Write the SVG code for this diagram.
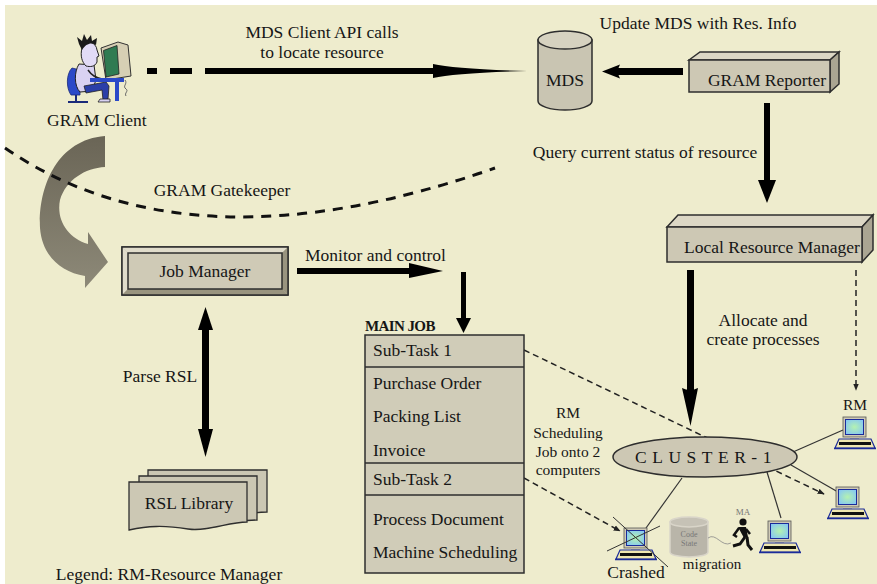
<svg xmlns="http://www.w3.org/2000/svg" xmlns:xlink="http://www.w3.org/1999/xlink" width="877" height="584" viewBox="0 0 877 584">
  <style>
    .t { font-family: "Liberation Serif", "Times New Roman", serif; font-size: 17.5px; fill: #161616; }
    .c { text-anchor: middle; }
    .sm { font-size: 15.5px; }
    .box { fill: #cdc8b4; stroke: #2e2e2e; stroke-width: 1.5; }
    .top { fill: #dcd7c5; stroke: #2e2e2e; stroke-width: 1.5; }
    .side { fill: #aaa592; stroke: #2e2e2e; stroke-width: 1.5; }
    .ink { fill: #000; }
    .dash { fill: none; stroke: #222; stroke-width: 1.5; stroke-dasharray: 6 4; }
    .wire { fill: none; stroke: #333; stroke-width: 1.2; }
  </style>
  <defs>
    <radialGradient id="scr" cx="0.5" cy="0.5" r="0.6">
      <stop offset="0" stop-color="#b4f2b0"/>
      <stop offset="1" stop-color="#86c8f2"/>
    </radialGradient>
    <linearGradient id="swoop" x1="0" y1="0" x2="0" y2="1">
      <stop offset="0" stop-color="#6a6556"/>
      <stop offset="1" stop-color="#8d8978"/>
    </linearGradient>
    <marker id="ah" viewBox="0 0 10 10" refX="9" refY="5" markerWidth="7" markerHeight="7" orient="auto" markerUnits="userSpaceOnUse">
      <path d="M0,1 L10,5 L0,9 Z" fill="#222"/>
    </marker>
    <!-- desktop computer icon, 44 x 34 -->
    <g id="pc">
      <rect x="10" y="0" width="23" height="20" fill="#cfcab5" stroke="#555" stroke-width="0.8"/>
      <rect x="12.5" y="2.5" width="18" height="15" fill="url(#scr)" stroke="#1b2b9a" stroke-width="1"/>
      <rect x="17" y="20" width="9" height="2" fill="#bdb8a4"/>
      <path d="M2,31 L6,22 L38,22 L42,31 Z" fill="#efe7b0" stroke="#1b2b9a" stroke-width="1.2"/>
      <rect x="6" y="25" width="32" height="3" fill="#111"/>
      <line x1="1" y1="31.5" x2="43" y2="31.5" stroke="#1b2b9a" stroke-width="1.5"/>
    </g>
  </defs>

  <!-- canvas -->
  <rect width="877" height="584" fill="#ffffff"/>
  <rect x="5" y="5" width="872" height="579" fill="#eeeccd"/>

  <!-- connectors -->
  <g id="connectors">
    <!-- client to gatekeeper / job manager swoop -->
    <path d="M105,136 L105,167 C85,168 66,180 60,200 C56,220 68,238 88,244 L88,232 L108,262 L85,288 L85,276 C60,272 42,255 40,228 C38,190 55,140 105,136 Z" fill="url(#swoop)"/>
    <!-- gatekeeper boundary -->
    <path d="M5,148 Q190,275 495,168" fill="none" stroke="#111" stroke-width="3" stroke-dasharray="10 8"/>

    <!-- client API call to MDS -->
    <rect class="ink" x="147" y="68" width="10" height="6"/>
    <rect class="ink" x="170" y="68" width="22" height="6"/>
    <rect class="ink" x="205" y="68" width="232" height="6"/>
    <path class="ink" d="M433,64 Q455,69 527,71 Q455,73 433,78 Z"/>

    <!-- reporter to MDS -->
    <rect class="ink" x="616" y="68" width="67" height="7"/>
    <path class="ink" d="M602,71.5 L620,64.5 L617,71.5 L620,78.5 Z"/>

    <!-- reporter down to local resource manager -->
    <rect class="ink" x="764" y="103" width="6" height="80"/>
    <path class="ink" d="M758,180 L776,180 L767,203 Z"/>

    <!-- local resource manager down to cluster -->
    <rect class="ink" x="687" y="270" width="7" height="122"/>
    <path class="ink" d="M682,388 Q690,392 698,388 L690.5,426 Z"/>

    <!-- local resource manager to RM node -->
    <line class="dash" x1="856" y1="270" x2="856" y2="390" stroke-dasharray="5 3" marker-end="url(#ah)"/>

    <!-- monitor and control -->
    <rect class="ink" x="297" y="268" width="116" height="6"/>
    <path class="ink" d="M409,263 L443,271 L409,278 Z"/>
    <rect class="ink" x="461" y="272" width="5" height="48"/>
    <path class="ink" d="M456,318 L471,318 L463.5,333 Z"/>

    <!-- parse RSL -->
    <rect class="ink" x="202" y="326" width="7" height="106"/>
    <path class="ink" d="M198,330 L205.5,307 L213,330 Z"/>
    <path class="ink" d="M198,429 L213,429 L205.5,457 Z"/>

    <!-- sub-task dispatch -->
    <line class="dash" x1="524" y1="350" x2="824" y2="494" marker-end="url(#ah)"/>
    <line class="dash" x1="524" y1="478" x2="620" y2="531" marker-end="url(#ah)"/>

    <!-- cluster links -->
    <line class="wire" x1="682" y1="478" x2="646" y2="528"/>
    <line class="wire" x1="767" y1="472" x2="781" y2="518"/>
    <line class="wire" x1="793" y1="452" x2="843" y2="430"/>
    <line class="wire" x1="791" y1="465" x2="838" y2="492"/>
  </g>

  <!-- text labels on connectors -->
  <g id="labels">
    <text class="t c" x="322" y="38">MDS Client API calls</text>
    <text class="t c" x="322" y="58">to locate resource</text>
    <text class="t c" x="698" y="29">Update MDS with Res. Info</text>
    <text class="t c" x="645" y="158">Query current status of resource</text>
    <text class="t c" x="222" y="196">GRAM Gatekeeper</text>
    <text class="t" x="305" y="261">Monitor and control</text>
    <text class="t c" x="763" y="326">Allocate and</text>
    <text class="t c" x="763" y="345">create processes</text>
    <text class="t c" x="160" y="382">Parse RSL</text>
    <text class="t sm c" x="568" y="418">RM</text>
    <text class="t sm c" x="568" y="438">Scheduling</text>
    <text class="t sm c" x="568" y="457">Job onto 2</text>
    <text class="t sm c" x="568" y="475">computers</text>
    <text class="t c" x="169" y="580">Legend: RM-Resource Manager</text>
  </g>

  <!-- GRAM client: user at a workstation -->
  <g id="gram-client">
    <path d="M72,68 C66,74 66,88 71,95 L80,95 L80,70 Z" fill="#2b49c8" stroke="#1a2a7a" stroke-width="0.8"/>
    <line x1="76" y1="95" x2="76" y2="101" stroke="#1a2a7a" stroke-width="2"/>
    <line x1="68" y1="102" x2="88" y2="102" stroke="#1a2a7a" stroke-width="2"/>
    <path d="M79,64 C74,72 74,86 80,92 L92,91 L96,80 L94,65 Z" fill="#d9d2f2" stroke="#222" stroke-width="1"/>
    <path d="M84,86 L106,82 L109,86 L108,99 L103,100 L102,90 L86,93 Z" fill="#2b3fa8" stroke="#222" stroke-width="0.8"/>
    <path d="M100,99 L110,99 L110,102 L98,102 Z" fill="#d9d2f2" stroke="#222" stroke-width="0.8"/>
    <path d="M88,70 C92,76 96,78 102,79" fill="none" stroke="#222" stroke-width="1.5"/>
    <path d="M82,48 C82,40 96,40 97,50 L99,56 L97,57 L97,62 C95,67 90,67 86,66 C82,62 80,56 82,48 Z" fill="#e2dbf6" stroke="#222" stroke-width="1"/>
    <path d="M79,44 L77,37 L82,41 L84,34 L87,40 L91,35 L92,41 L97,38 L96,45 C92,42 86,43 82,50 Z" fill="#1a1a1a"/>
    <path d="M101,48 L118,42 L128,45 L131,76 L106,80 Z" fill="#d6cfb4" stroke="#333" stroke-width="1"/>
    <path d="M103.5,50.5 L117,45.5 L119,74 L106,77 Z" fill="#2f7b52" stroke="#222" stroke-width="0.8"/>
    <rect x="90" y="78" width="34" height="4" fill="#2b49c8"/>
    <rect x="115" y="82" width="4" height="19" fill="#2b49c8"/>
    <path d="M125,80 C128,84 122,86 126,89 C129,91 124,93 126,96" fill="none" stroke="#666" stroke-width="1"/>
    <text class="t" x="47" y="126">GRAM  Client</text>
  </g>

  <!-- MDS directory -->
  <g id="mds">
    <path d="M538,40 L538,101 A27,9 0 0 0 592,101 L592,40 Z" fill="#c9c5b2" stroke="#2e2e2e" stroke-width="1.5"/>
    <ellipse cx="565" cy="40" rx="27" ry="9" fill="#d6d2c0" stroke="#2e2e2e" stroke-width="1.5"/>
    <text class="t c" x="565" y="86">MDS</text>
  </g>

  <!-- GRAM reporter -->
  <g id="gram-reporter">
    <polygon class="top" points="689,60 700,52 839,52 830,60"/>
    <polygon class="side" points="830,60 839,52 839,84 830,92"/>
    <rect class="box" x="689" y="60" width="141" height="32"/>
    <text class="t c" x="767" y="86">GRAM Reporter</text>
  </g>

  <!-- local resource manager -->
  <g id="local-resource-manager">
    <polygon class="top" points="667,227 678,215 873,215 862,227"/>
    <polygon class="side" points="862,227 873,215 873,250 862,262"/>
    <rect class="box" x="667" y="227" width="195" height="35"/>
    <text class="t" x="684" y="253">Local Resource Manager</text>
  </g>

  <!-- job manager -->
  <g id="job-manager">
    <rect x="122" y="247" width="166" height="48" fill="#bdb8a4" stroke="#2e2e2e" stroke-width="1.5"/>
    <polygon points="122,247 288,247 282,253 128,253" fill="#e0dccb"/>
    <polygon points="122,247 128,253 128,289 122,295" fill="#e0dccb"/>
    <polygon points="288,247 288,295 282,289 282,253" fill="#99947f"/>
    <polygon points="122,295 128,289 282,289 288,295" fill="#99947f"/>
    <rect x="122" y="247" width="166" height="48" fill="none" stroke="#2e2e2e" stroke-width="1.5"/>
    <rect x="128" y="253" width="154" height="36" fill="#cfcab6" stroke="#2e2e2e" stroke-width="1.5"/>
    <text class="t c" x="205" y="277">Job Manager</text>
  </g>

  <!-- RSL library (stacked documents) -->
  <g id="rsl-library">
    <path d="M148,470 L267,470 L267,512 C248,512 230,519 210,516 C185,512 168,512 148,514 Z" fill="#cbc7b3" stroke="#2e2e2e" stroke-width="1.3"/>
    <path d="M139,476 L257,476 L257,520 C238,520 220,526 200,523 C175,519 158,519 139,521 Z" fill="#cbc7b3" stroke="#2e2e2e" stroke-width="1.3"/>
    <path d="M129,482 L247,482 L247,522 C228,522 208,532 188,529 C163,525 148,526 129,530 Z" fill="#ccc8b4" stroke="#2e2e2e" stroke-width="1.3"/>
    <text class="t c" x="189" y="509">RSL Library</text>
  </g>

  <!-- main job and its sub-tasks -->
  <g id="main-job">
    <text class="t" x="365" y="331" style="font-weight:bold;font-size:15px;letter-spacing:-0.6px">MAIN JOB</text>
    <rect x="365" y="335" width="159" height="238" fill="#d0ccb8" stroke="#2e2e2e" stroke-width="1.5"/>
    <line x1="365" y1="367" x2="524" y2="367" stroke="#2e2e2e" stroke-width="1.5"/>
    <line x1="365" y1="463" x2="524" y2="463" stroke="#2e2e2e" stroke-width="1.5"/>
    <line x1="365" y1="495" x2="524" y2="495" stroke="#2e2e2e" stroke-width="1.5"/>
    <text class="t" x="373" y="356">Sub-Task 1</text>
    <text class="t" x="373" y="389">Purchase Order</text>
    <text class="t" x="373" y="422">Packing List</text>
    <text class="t" x="373" y="456">Invoice</text>
    <text class="t" x="373" y="485">Sub-Task 2</text>
    <text class="t" x="373" y="525">Process Document</text>
    <text class="t" x="373" y="558">Machine Scheduling</text>
  </g>

  <!-- cluster -->
  <g id="cluster-1">
    <ellipse cx="705" cy="457" rx="92" ry="20" fill="#cdc8b4" stroke="#2e2e2e" stroke-width="1.5"/>
    <text class="t c" x="706" y="463" style="letter-spacing:5.5px">CLUSTER-1</text>
  </g>

  <!-- cluster nodes -->
  <g id="node-rm">
    <text class="t sm c" x="855" y="410">RM</text>
    <use xlink:href="#pc" x="833" y="417"/>
  </g>
  <g id="node-right">
    <use xlink:href="#pc" x="826" y="487"/>
  </g>
  <g id="node-middle">
    <use xlink:href="#pc" x="758" y="521"/>
  </g>
  <g id="node-crashed">
    <use xlink:href="#pc" x="614" y="528"/>
    <line x1="613" y1="517" x2="668" y2="567" stroke="#333" stroke-width="1"/>
    <line x1="607" y1="551" x2="660" y2="526" stroke="#333" stroke-width="1"/>
    <text class="t c" x="636" y="578">Crashed</text>
  </g>

  <!-- code/state migration by mobile agent -->
  <g id="migration">
    <path d="M670,522 L670,552 A19,5 0 0 0 708,552 L708,522 Z" fill="#b9b5a9" stroke="#d9d5c9" stroke-width="1.5"/>
    <ellipse cx="689" cy="522" rx="19" ry="5" fill="#c6c2b6" stroke="#d9d5c9" stroke-width="1.5"/>
    <text x="689" y="537" text-anchor="middle" style="font-family:'Liberation Serif',serif;font-size:8px;fill:#777">Code</text>
    <text x="689" y="546" text-anchor="middle" style="font-family:'Liberation Serif',serif;font-size:8px;fill:#777">State</text>
    <path d="M708,538 C716,532 722,548 731,543" fill="none" stroke="#888" stroke-width="0.8"/>
    <text x="743" y="515" text-anchor="middle" style="font-family:'Liberation Serif',serif;font-size:9px;fill:#777">MA</text>
    <circle cx="743" cy="522" r="3.6" fill="#111"/>
    <path d="M738,527 L746,527 L748,537 L744,538 Z" fill="#111"/>
    <path d="M739,528 L734,535 L737,537" fill="none" stroke="#111" stroke-width="2.5"/>
    <path d="M746,529 L750,534" fill="none" stroke="#111" stroke-width="2.5"/>
    <path d="M745,537 L740,544 L733,546" fill="none" stroke="#111" stroke-width="3"/>
    <path d="M747,537 L748,545 L752,550" fill="none" stroke="#111" stroke-width="3"/>
    <text class="t c" x="712" y="569" style="font-size:15px">migration</text>
  </g>
</svg>
